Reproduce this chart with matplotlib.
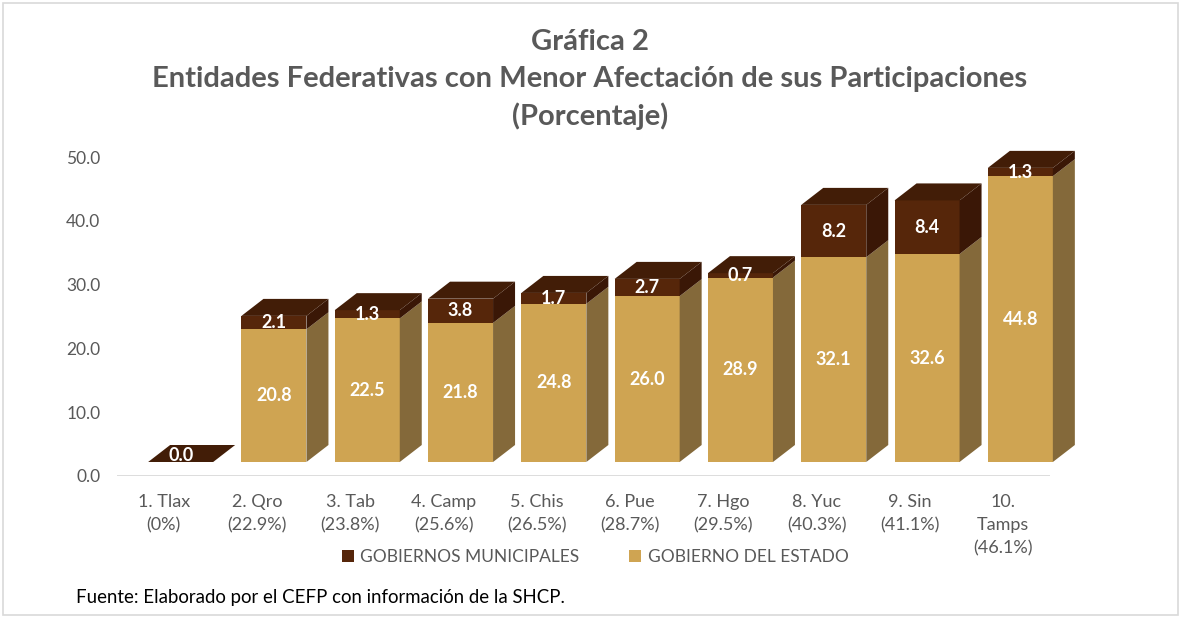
import matplotlib
matplotlib.use("Agg")
import matplotlib.pyplot as plt
from matplotlib.patches import Polygon, Patch, Rectangle
import matplotlib.transforms as mtransforms

# ---------------- data ----------------
categories = ["1. Tlax\n(0%)", "2. Qro\n(22.9%)", "3. Tab\n(23.8%)", "4. Camp\n(25.6%)",
              "5. Chis\n(26.5%)", "6. Pue\n(28.7%)", "7. Hgo\n(29.5%)", "8. Yuc\n(40.3%)",
              "9. Sin\n(41.1%)", "10.\nTamps\n(46.1%)"]
gobierno_estado = [0.0, 20.8, 22.5, 21.8, 24.8, 26.0, 28.9, 32.1, 32.6, 44.8]
gobiernos_municipales = [0.0, 2.1, 1.3, 3.8, 1.7, 2.7, 0.7, 8.2, 8.4, 1.3]
yticks = [0, 10, 20, 30, 40, 50]
title_lines = ["Gráfica 2",
               "Entidades Federativas con Menor Afectación de sus Participaciones",
               "(Porcentaje)"]
legend_labels = ["GOBIERNOS MUNICIPALES", "GOBIERNO DEL ESTADO"]
source_text = "Fuente: Elaborado por el CEFP con información de la SHCP."

# ---------------- style ----------------
FONT = ["Lato", "DejaVu Sans"]
plt.rcParams["font.family"] = FONT
GRAY = "#595959"
EST_FRONT, EST_SIDE = "#CFA452", "#84693A"
MUN_FRONT, MUN_TOP, MUN_SIDE = "#56260A", "#421D07", "#3A1706"

W, H = 1180, 618
fig = plt.figure(figsize=(W / 100, H / 100), dpi=100)

# outer border
fig.patches.append(Rectangle((3 / W, 3 / H), (1178 - 3) / W, (615 - 3) / H,
                             transform=fig.transFigure, fill=False,
                             edgecolor="#D9D9D9", lw=1.2))

ax_l, ax_r, ax_t, ax_b = 117, 1050, 157, 476
ax = fig.add_axes([ax_l / W, (H - ax_b) / H, (ax_r - ax_l) / W, (ax_b - ax_t) / H])
ax.set_xlim(-0.5, len(categories) - 0.5)
ax.set_ylim(0, 50)
for s in ax.spines.values():
    s.set_visible(False)
ax.axhline(0, color="#D9D9D9", lw=2, zorder=1)

ax.set_yticks(yticks)
ax.set_yticklabels([f"{v:.1f}" for v in yticks])
ax.tick_params(axis="y", length=0, pad=12, labelsize=12.5, labelcolor=GRAY)
ax.set_xticks(range(len(categories)))
ax.set_xticklabels(categories, linespacing=1.55)
ax.tick_params(axis="x", length=0, pad=13, labelsize=13, labelcolor=GRAY)

# pseudo-3D geometry (pixel offsets of the Excel 3-D projection)
front_tr = mtransforms.offset_copy(ax.transData, fig=fig, x=17, y=14, units="dots")
p0 = ax.transData.transform((0, 0))
p1 = ax.transData.transform((1, 1))
px_x, px_y = p1[0] - p0[0], p1[1] - p0[1]
dx, dy = 22 / px_x, 17 / px_y
bw = 65 / px_x

xs = list(range(len(categories)))
ax.bar(xs, gobierno_estado, width=bw, color=EST_FRONT, transform=front_tr,
       zorder=2, clip_on=False)
ax.bar(xs, gobiernos_municipales, width=bw, bottom=gobierno_estado, color=MUN_FRONT,
       transform=front_tr, zorder=2, clip_on=False)

for x, s, m in zip(xs, gobierno_estado, gobiernos_municipales):
    xl, xr = x - bw / 2, x + bw / 2
    t = s + m
    if s > 0:
        ax.add_patch(Polygon([(xr, 0), (xr + dx, dy), (xr + dx, s + dy), (xr, s)],
                             closed=True, fc=EST_SIDE, ec="none", transform=front_tr,
                             zorder=2, clip_on=False))
    if m > 0:
        ax.add_patch(Polygon([(xr, s), (xr + dx, s + dy), (xr + dx, t + dy), (xr, t)],
                             closed=True, fc=MUN_SIDE, ec="none", transform=front_tr,
                             zorder=2, clip_on=False))
    ax.add_patch(Polygon([(xl, t), (xl + dx, t + dy), (xr + dx, t + dy), (xr, t)],
                         closed=True, fc=MUN_TOP, ec="none", transform=front_tr,
                         zorder=2, clip_on=False))
    # data labels
    if s > 0:
        ax.text(x, s / 2, f"{s:.1f}", transform=front_tr, ha="center", va="center",
                color="white", fontsize=13, fontweight="bold", zorder=3)
    ax.text(x, s + (m / 2 if m > 0 else dy / 2.5),
            f"{m:.1f}", transform=front_tr, ha="center", va="center",
            color="white", fontsize=13, fontweight="bold", zorder=3)

# title
for line, yc in zip(title_lines, [42, 79, 116]):
    fig.text(590 / W, 1 - yc / H, line, ha="center", va="center", color=GRAY,
             fontsize=21, fontweight="bold")

# legend
handles = [Patch(facecolor=MUN_FRONT, edgecolor="none"),
           Patch(facecolor=EST_FRONT, edgecolor="none")]
leg = fig.legend(handles, legend_labels, loc="center", bbox_to_anchor=(595 / W, 1 - 557 / H),
                 ncol=2, frameon=False, fontsize=12.5, handlelength=0.7, handleheight=0.7,
                 handletextpad=0.35, columnspacing=2.9, borderaxespad=0)
for txt in leg.get_texts():
    txt.set_color(GRAY)

# source
fig.text(76 / W, 1 - 598 / H, source_text, ha="left", va="center", color="black",
         fontsize=13.4)

fig.savefig("out.png", dpi=100)
